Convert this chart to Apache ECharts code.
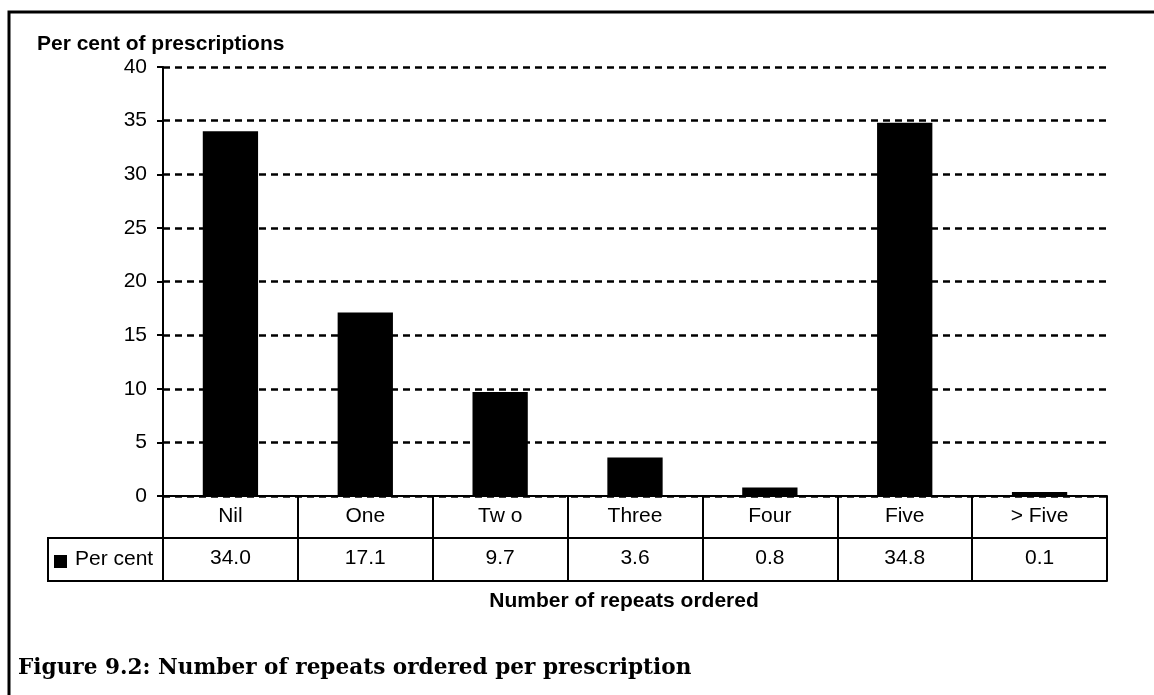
<!DOCTYPE html>
<html>
<head>
<meta charset="utf-8">
<script src="https://cdn.jsdelivr.net/npm/echarts@6/dist/echarts.min.js"></script>
<style>
html,body{margin:0;padding:0;background:#fff;}
#chart{width:1154px;height:695px;}
</style>
</head>
<body>
<div id="chart"></div>
<script>
const categories = ['Nil', 'One', 'Tw o', 'Three', 'Four', 'Five', '> Five'];
const perCent = [34.0, 17.1, 9.7, 3.6, 0.8, 34.8, 0.1];
const seriesName = 'Per cent';
const yTitle = 'Per cent of prescriptions';
const xTitle = 'Number of repeats ordered';
const caption = 'Figure 9.2: Number of repeats ordered per prescription';

const FONT = 'Liberation Sans, Arial, sans-serif';
const chart = echarts.init(document.getElementById('chart'), null, {renderer: 'canvas'});

const gridLeft = 163, gridTop = 67, gridRight = 47, gridBottom = 695 - 496;
const rowH = 42;

const option = {
  backgroundColor: '#fff',
  animation: false,
  title: {
    text: yTitle,
    left: 32, top: 29,
    textStyle: {fontFamily: FONT, fontSize: 21, fontWeight: 'bold', color: '#000'}
  },
  grid: {left: gridLeft, top: gridTop, right: gridRight, bottom: gridBottom, containLabel: false},
  xAxis: [
    {
      type: 'category', data: categories, position: 'bottom',
      axisLine: {show: true, lineStyle: {color: '#000', width: 2}},
      axisTick: {show: true, length: rowH * 2 + 1, inside: false, lineStyle: {color: '#000', width: 2}},
      axisLabel: {fontFamily: FONT, fontSize: 21, color: '#000', margin: 10},
      splitLine: {show: false}
    },
    {
      type: 'category', data: perCent.map(v => v.toFixed(1)), position: 'bottom', offset: rowH,
      axisLine: {show: true, lineStyle: {color: '#000', width: 2}},
      axisTick: {show: false},
      axisLabel: {fontFamily: FONT, fontSize: 21, color: '#000', margin: 10},
      splitLine: {show: false}
    },
    {
      type: 'category', data: categories, position: 'bottom', offset: rowH * 2 + 1,
      axisLine: {show: true, lineStyle: {color: '#000', width: 2}},
      axisTick: {show: false},
      axisLabel: {show: false},
      splitLine: {show: false}
    }
  ],
  yAxis: {
    type: 'value', min: 0, max: 40, interval: 5,
    axisLine: {show: true, lineStyle: {color: '#000', width: 2}},
    axisTick: {show: true, length: 6, lineStyle: {color: '#000', width: 2}},
    axisLabel: {fontFamily: FONT, fontSize: 21, color: '#000', margin: 16},
    splitLine: {show: true, lineStyle: {color: '#000', width: 2.5, type: [7, 5]}}
  },
  series: [{
    name: seriesName,
    type: 'bar',
    data: perCent,
    barWidth: '41%',
    barMinHeight: 4,
    itemStyle: {color: '#000'},
    xAxisIndex: 0
  }],
  graphic: [
    {type: 'rect', shape: {x: 9, y: 12, width: 1300, height: 800}, style: {fill: 'none', stroke: '#000', lineWidth: 3}, silent: true},
    {type: 'rect', shape: {x: 48, y: 496 + rowH, width: gridLeft - 48, height: rowH + 1}, style: {fill: 'none', stroke: '#000', lineWidth: 2}},
    {type: 'rect', shape: {x: 54, y: 555, width: 13, height: 13}, style: {fill: '#000'}},
    {type: 'text', x: 75, y: 559, style: {text: seriesName, font: '21px ' + FONT, fill: '#000', textVerticalAlign: 'middle', textAlign: 'left'}},
    {type: 'text', x: 624, y: 601, style: {text: xTitle, font: 'bold 21px ' + FONT, fill: '#000', textVerticalAlign: 'middle', textAlign: 'center'}},
    {type: 'text', x: 18, y: 668, style: {text: caption, font: 'bold 21.6px "DejaVu Serif", serif', fill: '#000', textVerticalAlign: 'middle', textAlign: 'left'}}
  ]
};
chart.setOption(option);
</script>
</body>
</html>
